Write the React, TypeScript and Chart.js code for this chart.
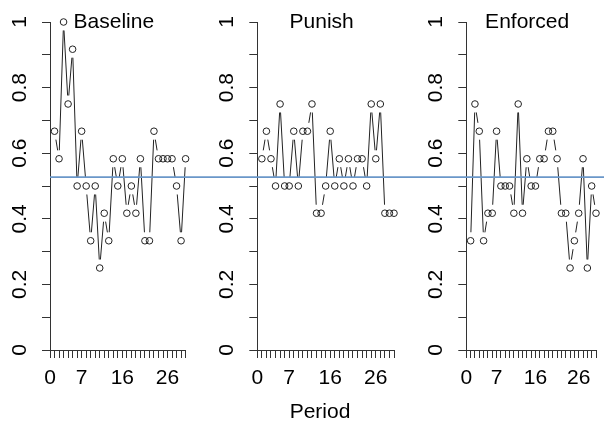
import React, { useEffect, useRef } from 'react';
import { Chart, registerables } from 'chart.js';

Chart.register(...registerables);

// ---- data ----
const periods = [1, 2, 3, 4, 5, 6, 7, 8, 9, 10, 11, 12, 13, 14, 15, 16, 17, 18, 19, 20, 21, 22, 23, 24, 25, 26, 27, 28, 29, 30];
const baseline = [0.667, 0.583, 1, 0.75, 0.917, 0.5, 0.667, 0.5, 0.333, 0.5, 0.25, 0.417, 0.333, 0.583, 0.5, 0.583, 0.417, 0.5, 0.417, 0.583, 0.333, 0.333, 0.667, 0.583, 0.583, 0.583, 0.583, 0.5, 0.333, 0.583];
const punish = [0.583, 0.667, 0.583, 0.5, 0.75, 0.5, 0.5, 0.667, 0.5, 0.667, 0.667, 0.75, 0.417, 0.417, 0.5, 0.667, 0.5, 0.583, 0.5, 0.583, 0.5, 0.583, 0.583, 0.5, 0.75, 0.583, 0.75, 0.417, 0.417, 0.417];
const enforced = [0.333, 0.75, 0.667, 0.333, 0.417, 0.417, 0.667, 0.5, 0.5, 0.5, 0.417, 0.75, 0.417, 0.583, 0.5, 0.5, 0.583, 0.583, 0.667, 0.667, 0.583, 0.417, 0.417, 0.25, 0.333, 0.417, 0.583, 0.25, 0.5, 0.417];
const panelTitles = ['Baseline', 'Punish', 'Enforced'];
const xTickLabels = [0, 7, 16, 26];
const yTickLabels = [0, 0.2, 0.4, 0.6, 0.8, 1];
const referenceLevel = 0.527;
const xAxisTitle = 'Period';

const FONT = 'Arial, "Liberation Sans", sans-serif';
const GAP = 8.5;

type PanelLayout = { left: number; width: number; axisX: number; plotW: number; lineFromZero: boolean };

const layouts: PanelLayout[] = [
  { left: 0, width: 200, axisX: 50, plotW: 135.6, lineFromZero: false },
  { left: 200, width: 204, axisX: 57.3, plotW: 136.7, lineFromZero: true },
  { left: 404, width: 200, axisX: 62.3, plotW: 136, lineFromZero: true },
];

const gappedLines = {
  id: 'gappedLines',
  afterDatasetsDraw(chart: any) {
    const pts = chart.getDatasetMeta(0).data;
    const ctx = chart.ctx;
    ctx.save();
    ctx.strokeStyle = '#222';
    ctx.lineWidth = 1;
    ctx.beginPath();
    for (let i = 0; i < pts.length - 1; i++) {
      const a = pts[i];
      const b = pts[i + 1];
      const dx = b.x - a.x;
      const dy = b.y - a.y;
      const d = Math.hypot(dx, dy);
      if (d <= 2 * GAP) continue;
      const ux = dx / d;
      const uy = dy / d;
      ctx.moveTo(a.x + ux * GAP, a.y + uy * GAP);
      ctx.lineTo(b.x - ux * GAP, b.y - uy * GAP);
    }
    ctx.stroke();
    ctx.restore();
  },
};

const decorations = {
  id: 'decorations',
  afterDraw(chart: any, _args: any, opts: any) {
    const ctx = chart.ctx;
    const area = chart.chartArea;
    const yScale = chart.scales.y;
    ctx.save();
    // y tick labels, rotated like R (las = 0)
    ctx.fillStyle = '#000';
    ctx.font = `21px ${FONT}`;
    ctx.textAlign = 'center';
    ctx.textBaseline = 'alphabetic';
    for (const v of yTickLabels) {
      const y = yScale.getPixelForValue(v);
      ctx.save();
      ctx.translate(area.left - 32, y);
      ctx.rotate(-Math.PI / 2);
      ctx.fillText(v === 0 || v === 1 ? String(v) : v.toFixed(1), 0, 7.5);
      ctx.restore();
    }
    // panel title
    ctx.font = `21px ${FONT}`;
    ctx.fillText(opts.title, (area.left + area.right) / 2 - 4, 28);
    // reference line
    const ry = yScale.getPixelForValue(referenceLevel);
    ctx.strokeStyle = '#6a97c9';
    ctx.lineWidth = 1.6;
    ctx.beginPath();
    ctx.moveTo(opts.lineFromZero ? 0 : area.left, ry);
    ctx.lineTo(chart.width, ry);
    ctx.stroke();
    ctx.restore();
  },
};

function Panel({ values, title, layout }: { values: number[]; title: string; layout: PanelLayout }) {
  const ref = useRef<HTMLCanvasElement>(null);
  useEffect(() => {
    if (!ref.current) return;
    const chart = new Chart(ref.current, {
      type: 'line',
      data: {
        datasets: [
          {
            data: periods.map((p, i) => ({ x: p, y: values[i] })),
            showLine: false,
            pointRadius: 3.3,
            pointBorderWidth: 1,
            pointBorderColor: '#222',
            pointBackgroundColor: 'rgba(0,0,0,0)',
            clip: false as any,
          },
        ],
      },
      options: {
        animation: false,
        responsive: false,
        devicePixelRatio: 1,
        events: [],
        layout: { padding: { left: 0, top: 22, right: layout.width - layout.axisX - layout.plotW, bottom: 0 } },
        plugins: {
          legend: { display: false },
          tooltip: { enabled: false },
          title: { display: false },
          decorations: { title, lineFromZero: layout.lineFromZero },
        } as any,
        scales: {
          x: {
            type: 'linear',
            min: 0,
            max: 30,
            afterFit: (s: any) => {
              s.height = 429 - 350;
            },
            grid: { drawOnChartArea: false, drawTicks: true, tickLength: 8, color: '#333', lineWidth: 1 },
            border: { display: true, color: '#333', width: 1 },
            ticks: {
              stepSize: 1,
              autoSkip: false,
              maxRotation: 0,
              minRotation: 0,
              padding: 8,
              color: '#000',
              font: { family: FONT, size: 21 },
              callback: (v: any) => (xTickLabels.includes(Number(v)) ? String(v) : ''),
            },
          },
          y: {
            type: 'linear',
            min: 0,
            max: 1,
            afterFit: (s: any) => {
              s.width = layout.axisX;
            },
            grid: { drawOnChartArea: false, drawTicks: true, tickLength: 8, color: '#333', lineWidth: 1 },
            border: { display: true, color: '#333', width: 1 },
            ticks: { stepSize: 0.1, display: false },
          },
        },
      },
      plugins: [gappedLines, decorations],
    });
    return () => chart.destroy();
  }, [values, title, layout]);
  return (
    <canvas
      ref={ref}
      width={layout.width}
      height={429}
      style={{ position: 'absolute', left: layout.left, top: 0, width: layout.width, height: 429 }}
    />
  );
}

export default function App() {
  const series = [baseline, punish, enforced];
  return (
    <div style={{ position: 'fixed', left: 0, top: 0, width: 604, height: 429, background: '#fff', overflow: 'hidden' }}>
      {series.map((vals, i) => (
        <Panel key={panelTitles[i]} values={vals} title={panelTitles[i]} layout={layouts[i]} />
      ))}
      <div
        style={{
          position: 'absolute',
          left: 270,
          width: 100,
          top: 400,
          textAlign: 'center',
          font: `21px ${FONT}`,
          lineHeight: '22px',
          color: '#000',
        }}
      >
        {xAxisTitle}
      </div>
    </div>
  );
}
